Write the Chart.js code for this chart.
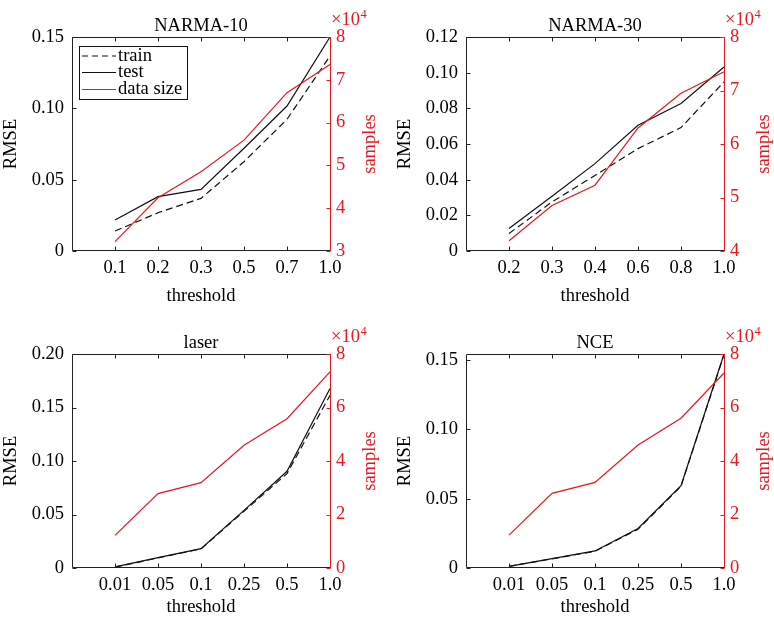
<!DOCTYPE html>
<html><head><meta charset="utf-8">
<script src="https://cdn.jsdelivr.net/npm/chart.js@4"></script>
<style>
html,body{margin:0;padding:0;background:#fff;}
#wrap{position:relative;width:774px;height:620px;overflow:hidden;background:#fff;}
canvas{position:absolute;}
</style></head><body><div id="wrap">
<canvas id="c1" width="387" height="310" style="left:0px;top:0px;width:387px;height:310px"></canvas>
<canvas id="c2" width="387" height="310" style="left:387px;top:0px;width:387px;height:310px"></canvas>
<canvas id="c3" width="387" height="310" style="left:0px;top:310px;width:387px;height:310px"></canvas>
<canvas id="c4" width="387" height="310" style="left:387px;top:310px;width:387px;height:310px"></canvas>
</div>
<script>
// ---------------- data ----------------
const narma10Thresholds = ['0.1', '0.2', '0.3', '0.5', '0.7', '1.0'];
const narma10Train   = [0.0140, 0.0268, 0.0369, 0.0626, 0.0923, 0.1367];
const narma10Test    = [0.0217, 0.0381, 0.0432, 0.0720, 0.1016, 0.1500];
const narma10Samples = [32200, 42450, 48500, 55900, 67000, 73600];
const narma10RmseTicks = [0, 0.05, 0.10, 0.15];
const narma10SampleTicks = [3, 4, 5, 6, 7, 8];           // ×10^4

const narma30Thresholds = ['0.2', '0.3', '0.4', '0.6', '0.8', '1.0'];
const narma30Train   = [0.0098, 0.0275, 0.0424, 0.0574, 0.0692, 0.0948];
const narma30Test    = [0.0126, 0.0307, 0.0490, 0.0705, 0.0827, 0.1032];
const narma30Samples = [41900, 48500, 52300, 63000, 69500, 73500];
const narma30RmseTicks = [0, 0.02, 0.04, 0.06, 0.08, 0.10, 0.12];
const narma30SampleTicks = [4, 5, 6, 7, 8];

const laserThresholds = ['0.01', '0.05', '0.1', '0.25', '0.5', '1.0'];
const laserTrain   = [0.0008, 0.0094, 0.0178, 0.0530, 0.0882, 0.1614];
const laserTest    = [0.0010, 0.0097, 0.0181, 0.0539, 0.0904, 0.1677];
const laserSamples = [12200, 27800, 31900, 45900, 55800, 73300];
const laserRmseTicks = [0, 0.05, 0.10, 0.15, 0.20];
const laserSampleTicks = [0, 2, 4, 6, 8];

const nceThresholds = ['0.01', '0.05', '0.1', '0.25', '0.5', '1.0'];
const nceTrain   = [0.0012, 0.0066, 0.0121, 0.0280, 0.0590, 0.1540];
const nceTest    = [0.0012, 0.0068, 0.0123, 0.0285, 0.0594, 0.1545];
const nceSamples = [12300, 27900, 32000, 46000, 56000, 72900];
const nceRmseTicks = [0, 0.05, 0.10, 0.15];
const nceSampleTicks = [0, 2, 4, 6, 8];

const seriesNames = ['train', 'test', 'data size'];
const panelTitles = ['NARMA-10', 'NARMA-30', 'laser', 'NCE'];
const xTitle = 'threshold', yTitle = 'RMSE', y2Title = 'samples';

// ---------------- styling ----------------
const FONT = "'Liberation Serif','DejaVu Serif','Times New Roman',serif";
const FS = 18.5;
const RED = 'rgb(232,22,30)';
const BLACK = '#111';
Chart.defaults.font.family = FONT;
Chart.defaults.font.size = FS;
Chart.defaults.color = '#000';

const panels = [
  {id:'c1', title:panelTitles[0], th:narma10Thresholds, train:narma10Train, test:narma10Test, samples:narma10Samples,
   rt:narma10RmseTicks, rmax:0.15, st:narma10SampleTicks, smin:30000, smax:80000,
   area:{left:72,right:330,top:37,bottom:251}, xTitleY:296, legend:true},
  {id:'c2', title:panelTitles[1], th:narma30Thresholds, train:narma30Train, test:narma30Test, samples:narma30Samples,
   rt:narma30RmseTicks, rmax:0.12, st:narma30SampleTicks, smin:40000, smax:80000,
   area:{left:79,right:337,top:37,bottom:251}, xTitleY:296, legend:false},
  {id:'c3', title:panelTitles[2], th:laserThresholds, train:laserTrain, test:laserTest, samples:laserSamples,
   rt:laserRmseTicks, rmax:0.20, st:laserSampleTicks, smin:0, smax:80000,
   area:{left:72,right:330,top:44,bottom:258}, xTitleY:297, legend:false},
  {id:'c4', title:panelTitles[3], th:nceThresholds, train:nceTrain, test:nceTest, samples:nceSamples,
   rt:nceRmseTicks, rmax:Math.max(...nceTest), st:nceSampleTicks, smin:0, smax:80000,
   area:{left:79,right:337,top:44,bottom:258}, xTitleY:297, legend:false}
];

function makeFramePlugin(p) {
  return {
    id: 'frame',
    afterDraw(chart) {
      const ctx = chart.ctx;
      const a = chart.chartArea;
      const xs = chart.scales.x, ys = chart.scales.y, y2 = chart.scales.y2;
      const L = Math.round(a.left) + 0.5, R = Math.round(a.right) + 0.5;
      const T = Math.round(a.top) + 0.5, B = Math.round(a.bottom) - 0.5;
      const tl = 4;
      ctx.save();
      ctx.lineWidth = 1;
      // black box: left, bottom, top
      ctx.strokeStyle = '#222';
      ctx.beginPath();
      ctx.moveTo(R, T); ctx.lineTo(L, T); ctx.lineTo(L, B); ctx.lineTo(R, B);
      ctx.stroke();
      // x ticks (inward, bottom and top)
      ctx.beginPath();
      for (let i = 1; i < p.th.length; i++) {
        const x = Math.round(xs.getPixelForValue(i)) + 0.5;
        ctx.moveTo(x, B); ctx.lineTo(x, B - tl);
        ctx.moveTo(x, T); ctx.lineTo(x, T + tl);
      }
      // left ticks
      p.rt.forEach(v => {
        const y = Math.round(ys.getPixelForValue(v)) + 0.5;
        ctx.moveTo(L, y); ctx.lineTo(L + tl, y);
      });
      ctx.stroke();
      // red right axis
      ctx.strokeStyle = RED;
      ctx.beginPath();
      ctx.moveTo(R, T - 0.5); ctx.lineTo(R, B + 0.5);
      p.st.forEach(v => {
        const y = Math.round(y2.getPixelForValue(v * 1e4)) + 0.5;
        ctx.moveTo(R, y); ctx.lineTo(R - tl, y);
      });
      ctx.stroke();

      // texts
      ctx.font = FS + 'px ' + FONT;
      ctx.fillStyle = '#000';
      ctx.textAlign = 'center';
      ctx.textBaseline = 'alphabetic';
      ctx.fillText(p.title, (a.left + a.right) / 2, a.top - 6);
      ctx.textBaseline = 'middle';
      ctx.fillText(xTitle, (a.left + a.right) / 2, p.xTitleY);
      const cy = (a.top + a.bottom) / 2;
      ctx.save();
      ctx.translate(a.left - 61, cy);
      ctx.rotate(-Math.PI / 2);
      ctx.fillText(yTitle, 0, 0);
      ctx.restore();
      ctx.save();
      ctx.fillStyle = RED;
      ctx.translate(a.right + 40, cy);
      ctx.rotate(-Math.PI / 2);
      ctx.fillText(y2Title, 0, 0);
      ctx.restore();
      // ×10^4
      ctx.fillStyle = RED;
      ctx.textAlign = 'left';
      ctx.textBaseline = 'alphabetic';
      const bx = a.right + 1, by = a.top - 12;
      ctx.fillText('\u00d710', bx, by);
      const w = ctx.measureText('\u00d710').width;
      ctx.font = '12.5px ' + FONT;
      ctx.fillText('4', bx + w + 0.5, by - 7);

      // legend
      if (p.legend) {
        const lx = 79.5, ly = 46.5, lw = 108, lh = 53;
        ctx.fillStyle = '#fff';
        ctx.fillRect(lx, ly, lw, lh);
        ctx.strokeStyle = '#111';
        ctx.lineWidth = 1;
        ctx.strokeRect(lx, ly, lw, lh);
        const rows = [56, 72.5, 89.5];
        const styles = [
          {c: BLACK, d: [6, 4]}, {c: BLACK, d: []}, {c: RED, d: []}
        ];
        ctx.font = FS + 'px ' + FONT;
        ctx.textBaseline = 'middle';
        ctx.textAlign = 'left';
        rows.forEach((ry, k) => {
          ctx.strokeStyle = styles[k].c;
          ctx.setLineDash(styles[k].d);
          ctx.lineWidth = 1.2;
          ctx.beginPath();
          ctx.moveTo(82, ry); ctx.lineTo(116, ry);
          ctx.stroke();
          ctx.setLineDash([]);
          ctx.fillStyle = '#000';
          ctx.fillText(seriesNames[k], 118, ry);
        });
      }
      ctx.restore();
    }
  };
}

panels.forEach(p => {
  const canvas = document.getElementById(p.id);
  const W = canvas.width, H = canvas.height;
  const labels = [''].concat(p.th);
  const pad = arr => [null].concat(arr);
  new Chart(canvas, {
    type: 'line',
    data: {
      labels: labels,
      datasets: [
        {label: seriesNames[2], data: pad(p.samples), yAxisID: 'y2', borderColor: RED, borderWidth: 1.2,
         pointRadius: 0, tension: 0, fill: false},
        {label: seriesNames[1], data: pad(p.test), yAxisID: 'y', borderColor: BLACK, borderWidth: 1.2,
         pointRadius: 0, tension: 0, fill: false},
        {label: seriesNames[0], data: pad(p.train), yAxisID: 'y', borderColor: BLACK, borderWidth: 1.2,
         borderDash: [7, 4], pointRadius: 0, tension: 0, fill: false}
      ]
    },
    options: {
      responsive: false,
      animation: false,
      devicePixelRatio: 1,
      layout: {padding: {top: p.area.top, left: 0, right: 0, bottom: 0}},
      plugins: {legend: {display: false}, tooltip: {enabled: false}, title: {display: false}},
      scales: {
        x: {
          type: 'category', offset: false,
          grid: {display: false, drawTicks: false}, border: {display: false},
          ticks: {autoSkip: false, maxRotation: 0, minRotation: 0, padding: 6, color: '#000'},
          afterFit: s => { s.height = H - p.area.bottom; s.paddingLeft = 0; s.paddingRight = 0; }
        },
        y: {
          type: 'linear', position: 'left', min: 0, max: p.rmax,
          grid: {display: false, drawTicks: false}, border: {display: false},
          ticks: {padding: 8, color: '#000', callback: v => v === 0 ? '0' : v.toFixed(2)},
          afterBuildTicks: s => { s.ticks = p.rt.map(v => ({value: v})); },
          afterFit: s => { s.width = p.area.left; s.paddingTop = 0; s.paddingBottom = 0; }
        },
        y2: {
          type: 'linear', position: 'right', min: p.smin, max: p.smax,
          grid: {display: false, drawTicks: false}, border: {display: false},
          ticks: {padding: 6, color: RED, callback: v => String(Math.round(v / 1e4))},
          afterBuildTicks: s => { s.ticks = p.st.map(v => ({value: v * 1e4})); },
          afterFit: s => { s.width = W - p.area.right; s.paddingTop = 0; s.paddingBottom = 0; }
        }
      }
    },
    plugins: [makeFramePlugin(p)]
  });
});
</script>
</body></html>
